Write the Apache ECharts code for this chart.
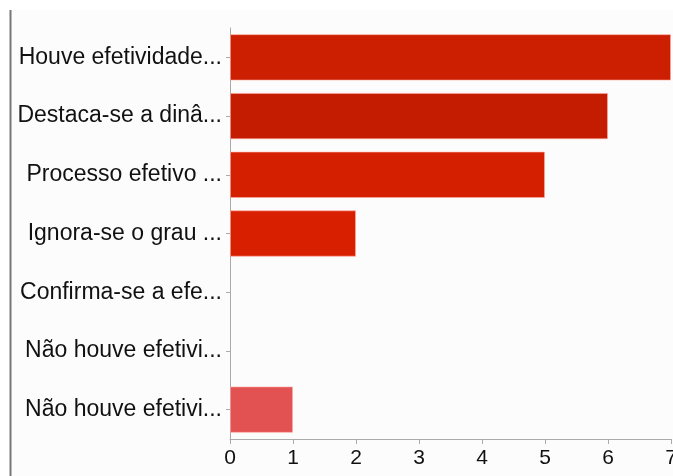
<!DOCTYPE html>
<html>
<head>
<meta charset="utf-8">
<script src="https://cdn.jsdelivr.net/npm/echarts@6/dist/echarts.min.js"></script>
<style>
  html, body { margin: 0; padding: 0; background: #ffffff; }
  #chart { width: 673px; height: 476px; }
</style>
</head>
<body>
<div id="chart"></div>
<script>
// Answer options (top to bottom) and how many responses each got
const categories = [
  'Houve efetividade...',
  'Destaca-se a dinâ...',
  'Processo efetivo ...',
  'Ignora-se o grau ...',
  'Confirma-se a efe...',
  'Não houve efetivi...',
  'Não houve efetivi...'
];
const counts = [7, 6, 5, 2, 0, 0, 1];
const barColors = ['#cc1e00', '#c41c00', '#d41f00', '#d82000', '#d82000', '#d82000', '#e25252'];
const tickValues = [0, 1, 2, 3, 4, 5, 6, 7];

const chart = echarts.init(document.getElementById('chart'), null, { renderer: 'canvas' });

chart.setOption({
  animation: false,
  backgroundColor: '#ffffff',
  graphic: [
    { type: 'rect', z: -10, shape: { x: 10, y: 10, width: 663, height: 466 }, style: { fill: '#fcfcfc' } },
    { type: 'line', z: 10, shape: { x1: 10.5, y1: 10, x2: 10.5, y2: 476 }, style: { stroke: '#777777', lineWidth: 2 } }
  ],
  grid: { left: 230, right: 2, top: 28, bottom: 37, containLabel: false, outerBoundsMode: 'none' },
  xAxis: {
    type: 'value',
    min: tickValues[0],
    max: tickValues[tickValues.length - 1],
    interval: 1,
    axisLine: { show: true, lineStyle: { color: '#aaaaaa', width: 1 } },
    axisTick: { show: true, length: 5, lineStyle: { color: '#aaaaaa' } },
    splitLine: { show: false },
    axisLabel: {
      color: '#111111',
      fontFamily: 'Liberation Sans, Arial, sans-serif',
      fontSize: 21,
      margin: 9,
      showMaxLabel: true,
      hideOverlap: false
    }
  },
  yAxis: {
    type: 'category',
    inverse: true,
    data: categories,
    axisLine: { show: true, lineStyle: { color: '#aaaaaa', width: 1 } },
    axisTick: { show: true, length: 4, alignWithLabel: true, lineStyle: { color: '#aaaaaa' } },
    axisLabel: {
      color: '#111111',
      fontFamily: 'Liberation Sans, Arial, sans-serif',
      fontSize: 23,
      margin: 8,
      hideOverlap: false
    }
  },
  series: [{
    type: 'bar',
    barCategoryGap: '21%',
    data: counts.map((v, i) => ({
      value: v,
      itemStyle: v > 0
        ? { color: barColors[i], borderColor: 'rgba(255,170,160,0.6)', borderWidth: 1 }
        : { color: barColors[i], borderWidth: 0 }
    }))
  }]
});
</script>
</body>
</html>
